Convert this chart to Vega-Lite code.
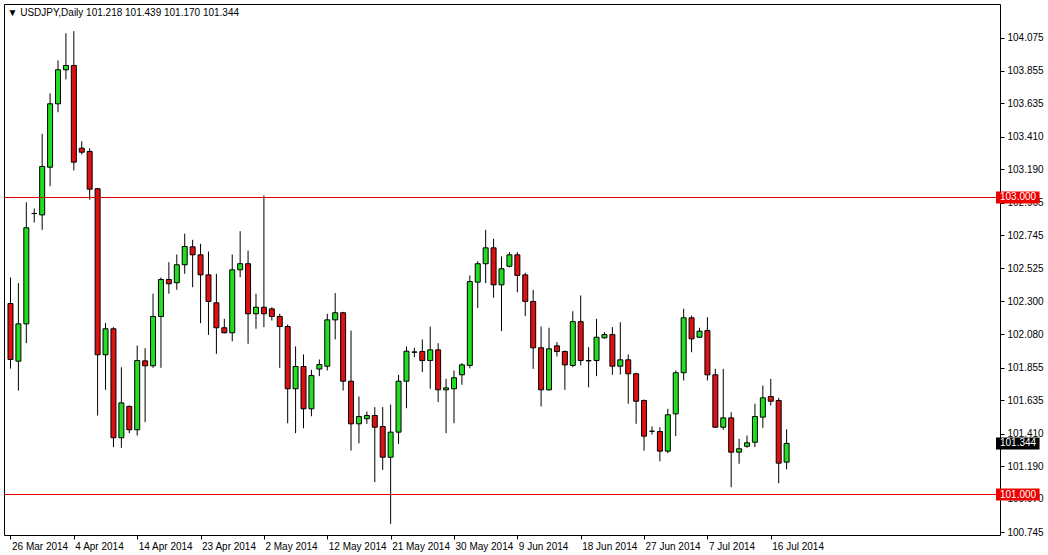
{
  "$schema": "https://vega.github.io/schema/vega-lite/v6.json",
  "width": 996,
  "height": 531,
  "autosize": {"type": "none"},
  "padding": {"left": 4, "top": 4, "right": 48, "bottom": 20},
  "background": "white",
  "config": {
    "view": {"stroke": "#000000", "strokeWidth": 1},
    "font": "Liberation Sans",
    "axis": {"grid": false, "domain": false, "title": null, "labelColor": "#000000", "tickColor": "#000000", "labelFontSize": 10, "labelFont": "Liberation Sans", "labelOverlap": false, "labelFlush": false}
  },
  "title": {"text": "▼  USDJPY,Daily  101.218 101.439 101.170 101.344", "anchor": "start", "orient": "top", "offset": -14, "dx": 4, "fontSize": 10, "fontWeight": "normal", "font": "Liberation Sans", "color": "#000000"},
  "datasets": {
    "candles": [
      {"i": 0, "date": "2014-03-26", "o": 102.286, "h": 102.461, "l": 101.848, "c": 101.909},
      {"i": 1, "date": "2014-03-27", "o": 101.898, "h": 102.423, "l": 101.700, "c": 102.149},
      {"i": 2, "date": "2014-03-28", "o": 102.149, "h": 102.968, "l": 102.019, "c": 102.796},
      {"i": 3, "date": "2014-03-30", "o": 102.892, "h": 102.926, "l": 102.832, "c": 102.892},
      {"i": 4, "date": "2014-03-31", "o": 102.883, "h": 103.429, "l": 102.782, "c": 103.209},
      {"i": 5, "date": "2014-04-01", "o": 103.204, "h": 103.702, "l": 103.076, "c": 103.631},
      {"i": 6, "date": "2014-04-02", "o": 103.631, "h": 103.923, "l": 103.574, "c": 103.860},
      {"i": 7, "date": "2014-04-03", "o": 103.860, "h": 104.106, "l": 103.795, "c": 103.889},
      {"i": 8, "date": "2014-04-04", "o": 103.889, "h": 104.120, "l": 103.182, "c": 103.238},
      {"i": 9, "date": "2014-04-06", "o": 103.332, "h": 103.379, "l": 103.290, "c": 103.305},
      {"i": 10, "date": "2014-04-07", "o": 103.310, "h": 103.332, "l": 102.985, "c": 103.056},
      {"i": 11, "date": "2014-04-08", "o": 103.059, "h": 103.065, "l": 101.532, "c": 101.941},
      {"i": 12, "date": "2014-04-09", "o": 101.941, "h": 102.154, "l": 101.705, "c": 102.116},
      {"i": 13, "date": "2014-04-10", "o": 102.116, "h": 102.127, "l": 101.319, "c": 101.382},
      {"i": 14, "date": "2014-04-11", "o": 101.382, "h": 101.857, "l": 101.314, "c": 101.617},
      {"i": 15, "date": "2014-04-13", "o": 101.593, "h": 101.600, "l": 101.413, "c": 101.436},
      {"i": 16, "date": "2014-04-14", "o": 101.436, "h": 102.003, "l": 101.397, "c": 101.902},
      {"i": 17, "date": "2014-04-15", "o": 101.900, "h": 101.985, "l": 101.487, "c": 101.867},
      {"i": 18, "date": "2014-04-16", "o": 101.867, "h": 102.352, "l": 101.853, "c": 102.199},
      {"i": 19, "date": "2014-04-17", "o": 102.199, "h": 102.461, "l": 101.853, "c": 102.448},
      {"i": 20, "date": "2014-04-18", "o": 102.448, "h": 102.564, "l": 102.352, "c": 102.419},
      {"i": 21, "date": "2014-04-20", "o": 102.426, "h": 102.616, "l": 102.378, "c": 102.547},
      {"i": 22, "date": "2014-04-21", "o": 102.547, "h": 102.756, "l": 102.486, "c": 102.670},
      {"i": 23, "date": "2014-04-22", "o": 102.668, "h": 102.715, "l": 102.396, "c": 102.614},
      {"i": 24, "date": "2014-04-23", "o": 102.614, "h": 102.688, "l": 102.154, "c": 102.479},
      {"i": 25, "date": "2014-04-24", "o": 102.479, "h": 102.636, "l": 102.075, "c": 102.300},
      {"i": 26, "date": "2014-04-25", "o": 102.291, "h": 102.486, "l": 101.947, "c": 102.123},
      {"i": 27, "date": "2014-04-27", "o": 102.123, "h": 102.183, "l": 102.085, "c": 102.089},
      {"i": 28, "date": "2014-04-28", "o": 102.089, "h": 102.616, "l": 102.032, "c": 102.513},
      {"i": 29, "date": "2014-04-29", "o": 102.513, "h": 102.773, "l": 102.463, "c": 102.554},
      {"i": 30, "date": "2014-04-30", "o": 102.554, "h": 102.643, "l": 102.015, "c": 102.217},
      {"i": 31, "date": "2014-05-01", "o": 102.217, "h": 102.352, "l": 102.116, "c": 102.261},
      {"i": 32, "date": "2014-05-02", "o": 102.261, "h": 103.013, "l": 102.127, "c": 102.217},
      {"i": 33, "date": "2014-05-04", "o": 102.250, "h": 102.261, "l": 102.172, "c": 102.199},
      {"i": 34, "date": "2014-05-05", "o": 102.199, "h": 102.217, "l": 101.853, "c": 102.131},
      {"i": 35, "date": "2014-05-06", "o": 102.131, "h": 102.145, "l": 101.480, "c": 101.712},
      {"i": 36, "date": "2014-05-07", "o": 101.712, "h": 101.997, "l": 101.413, "c": 101.862},
      {"i": 37, "date": "2014-05-08", "o": 101.862, "h": 101.943, "l": 101.446, "c": 101.577},
      {"i": 38, "date": "2014-05-09", "o": 101.577, "h": 101.840, "l": 101.527, "c": 101.801},
      {"i": 39, "date": "2014-05-11", "o": 101.845, "h": 101.909, "l": 101.797, "c": 101.875},
      {"i": 40, "date": "2014-05-12", "o": 101.864, "h": 102.217, "l": 101.835, "c": 102.176},
      {"i": 41, "date": "2014-05-13", "o": 102.176, "h": 102.356, "l": 102.044, "c": 102.224},
      {"i": 42, "date": "2014-05-14", "o": 102.224, "h": 102.230, "l": 101.700, "c": 101.763},
      {"i": 43, "date": "2014-05-15", "o": 101.763, "h": 102.104, "l": 101.296, "c": 101.476},
      {"i": 44, "date": "2014-05-16", "o": 101.476, "h": 101.660, "l": 101.345, "c": 101.525},
      {"i": 45, "date": "2014-05-18", "o": 101.510, "h": 101.559, "l": 101.476, "c": 101.532},
      {"i": 46, "date": "2014-05-19", "o": 101.532, "h": 101.588, "l": 101.083, "c": 101.453},
      {"i": 47, "date": "2014-05-20", "o": 101.458, "h": 101.588, "l": 101.166, "c": 101.251},
      {"i": 48, "date": "2014-05-21", "o": 101.251, "h": 101.606, "l": 100.803, "c": 101.420},
      {"i": 49, "date": "2014-05-22", "o": 101.420, "h": 101.806, "l": 101.341, "c": 101.763},
      {"i": 50, "date": "2014-05-23", "o": 101.763, "h": 101.997, "l": 101.581, "c": 101.965},
      {"i": 51, "date": "2014-05-25", "o": 101.960, "h": 101.988, "l": 101.925, "c": 101.958},
      {"i": 52, "date": "2014-05-26", "o": 101.963, "h": 102.044, "l": 101.824, "c": 101.902},
      {"i": 53, "date": "2014-05-27", "o": 101.902, "h": 102.131, "l": 101.712, "c": 101.974},
      {"i": 54, "date": "2014-05-28", "o": 101.974, "h": 102.019, "l": 101.622, "c": 101.705},
      {"i": 55, "date": "2014-05-29", "o": 101.705, "h": 101.779, "l": 101.413, "c": 101.718},
      {"i": 56, "date": "2014-05-30", "o": 101.712, "h": 101.835, "l": 101.480, "c": 101.786},
      {"i": 57, "date": "2014-06-01", "o": 101.806, "h": 101.884, "l": 101.739, "c": 101.873},
      {"i": 58, "date": "2014-06-02", "o": 101.869, "h": 102.475, "l": 101.850, "c": 102.434},
      {"i": 59, "date": "2014-06-03", "o": 102.430, "h": 102.571, "l": 102.255, "c": 102.554},
      {"i": 60, "date": "2014-06-04", "o": 102.554, "h": 102.782, "l": 102.423, "c": 102.661},
      {"i": 61, "date": "2014-06-05", "o": 102.661, "h": 102.722, "l": 102.325, "c": 102.412},
      {"i": 62, "date": "2014-06-06", "o": 102.412, "h": 102.603, "l": 102.100, "c": 102.520},
      {"i": 63, "date": "2014-06-08", "o": 102.537, "h": 102.632, "l": 102.530, "c": 102.614},
      {"i": 64, "date": "2014-06-09", "o": 102.614, "h": 102.632, "l": 102.362, "c": 102.475},
      {"i": 65, "date": "2014-06-10", "o": 102.479, "h": 102.493, "l": 102.201, "c": 102.300},
      {"i": 66, "date": "2014-06-11", "o": 102.300, "h": 102.378, "l": 101.846, "c": 101.988},
      {"i": 67, "date": "2014-06-12", "o": 101.988, "h": 102.131, "l": 101.593, "c": 101.705},
      {"i": 68, "date": "2014-06-13", "o": 101.705, "h": 102.123, "l": 101.700, "c": 101.981},
      {"i": 69, "date": "2014-06-15", "o": 102.001, "h": 102.026, "l": 101.929, "c": 101.963},
      {"i": 70, "date": "2014-06-16", "o": 101.963, "h": 101.970, "l": 101.705, "c": 101.873},
      {"i": 71, "date": "2014-06-17", "o": 101.869, "h": 102.234, "l": 101.857, "c": 102.164},
      {"i": 72, "date": "2014-06-18", "o": 102.164, "h": 102.340, "l": 101.869, "c": 101.902},
      {"i": 73, "date": "2014-06-19", "o": 101.902, "h": 101.992, "l": 101.722, "c": 101.900},
      {"i": 74, "date": "2014-06-20", "o": 101.902, "h": 102.183, "l": 101.797, "c": 102.059},
      {"i": 75, "date": "2014-06-22", "o": 102.055, "h": 102.093, "l": 102.050, "c": 102.077},
      {"i": 76, "date": "2014-06-23", "o": 102.077, "h": 102.127, "l": 101.806, "c": 101.864},
      {"i": 77, "date": "2014-06-24", "o": 101.864, "h": 102.160, "l": 101.808, "c": 101.907},
      {"i": 78, "date": "2014-06-25", "o": 101.907, "h": 101.943, "l": 101.611, "c": 101.813},
      {"i": 79, "date": "2014-06-26", "o": 101.813, "h": 101.820, "l": 101.476, "c": 101.628},
      {"i": 80, "date": "2014-06-27", "o": 101.633, "h": 101.640, "l": 101.296, "c": 101.393},
      {"i": 81, "date": "2014-06-29", "o": 101.426, "h": 101.458, "l": 101.404, "c": 101.426},
      {"i": 82, "date": "2014-06-30", "o": 101.424, "h": 101.453, "l": 101.224, "c": 101.292},
      {"i": 83, "date": "2014-07-01", "o": 101.292, "h": 101.577, "l": 101.278, "c": 101.537},
      {"i": 84, "date": "2014-07-02", "o": 101.543, "h": 101.835, "l": 101.393, "c": 101.820},
      {"i": 85, "date": "2014-07-03", "o": 101.820, "h": 102.251, "l": 101.768, "c": 102.190},
      {"i": 86, "date": "2014-07-04", "o": 102.190, "h": 102.205, "l": 101.958, "c": 102.048},
      {"i": 87, "date": "2014-07-06", "o": 102.059, "h": 102.123, "l": 102.055, "c": 102.100},
      {"i": 88, "date": "2014-07-07", "o": 102.104, "h": 102.194, "l": 101.768, "c": 101.806},
      {"i": 89, "date": "2014-07-08", "o": 101.806, "h": 101.846, "l": 101.449, "c": 101.453},
      {"i": 90, "date": "2014-07-09", "o": 101.453, "h": 101.846, "l": 101.436, "c": 101.516},
      {"i": 91, "date": "2014-07-10", "o": 101.516, "h": 101.554, "l": 101.049, "c": 101.285},
      {"i": 92, "date": "2014-07-11", "o": 101.285, "h": 101.375, "l": 101.207, "c": 101.308},
      {"i": 93, "date": "2014-07-13", "o": 101.325, "h": 101.397, "l": 101.314, "c": 101.348},
      {"i": 94, "date": "2014-07-14", "o": 101.352, "h": 101.611, "l": 101.319, "c": 101.525},
      {"i": 95, "date": "2014-07-15", "o": 101.521, "h": 101.734, "l": 101.449, "c": 101.651},
      {"i": 96, "date": "2014-07-16", "o": 101.660, "h": 101.779, "l": 101.599, "c": 101.628},
      {"i": 97, "date": "2014-07-17", "o": 101.633, "h": 101.651, "l": 101.076, "c": 101.211},
      {"i": 98, "date": "2014-07-18", "o": 101.218, "h": 101.439, "l": 101.170, "c": 101.344}
    ],
    "levels": [
      {"p": 103.0, "lab": "103.000", "kind": "level"},
      {"p": 101.0, "lab": "101.000", "kind": "level"},
      {"p": 101.344, "lab": "101.344", "kind": "current"}
    ]
  },
  "layer": [
    {
      "data": {"name": "candles"},
      "mark": {"type": "rule", "color": "#000000", "strokeWidth": 1, "clip": true},
      "encoding": {
        "x": {"field": "i", "type": "quantitative",
          "scale": {"domain": [-0.1875, 124.3125], "nice": false, "zero": false},
          "axis": {"values": [0, 8, 16, 24, 32, 40, 48, 56, 64, 72, 80, 88, 96], "tickCount": 40,
            "labelExpr": "['26 Mar 2014','4 Apr 2014','14 Apr 2014','23 Apr 2014','2 May 2014','12 May 2014','21 May 2014','30 May 2014','9 Jun 2014','18 Jun 2014','27 Jun 2014','7 Jul 2014','16 Jul 2014'][round(datum.value/8)]",
            "labelAlign": "left", "labelOffset": 1, "tickSize": 4, "labelPadding": 2, "labelBaseline": "top", "labelOverlap": false}},
        "y": {"field": "l", "type": "quantitative",
          "scale": {"domain": [100.7273, 104.303], "nice": false, "zero": false},
          "axis": {"orient": "right", "values": [104.075, 103.855, 103.635, 103.41, 103.19, 102.965, 102.745, 102.525, 102.3, 102.08, 101.855, 101.635, 101.41, 101.19, 100.97, 100.745], "tickCount": 40,
            "format": ".3f", "tickSize": 4, "labelPadding": 3, "labelBaseline": "middle", "labelAlign": "left", "labelOverlap": false}},
        "y2": {"field": "h"}
      }
    },
    {
      "data": {"name": "candles"},
      "mark": {"type": "bar", "width": 5, "stroke": "#000000", "strokeWidth": 1, "clip": true},
      "encoding": {
        "x": {"field": "i", "type": "quantitative"},
        "y": {"field": "o", "type": "quantitative"},
        "y2": {"field": "c"},
        "fill": {"condition": {"test": "datum.c >= datum.o", "value": "#22dd22"}, "value": "#dd1111"}
      }
    },
    {
      "data": {"name": "levels"},
      "transform": [{"filter": "datum.kind == 'level'"}],
      "mark": {"type": "rule", "color": "#e00000", "strokeWidth": 1},
      "encoding": {"y": {"field": "p", "type": "quantitative"}}
    },
    {
      "data": {"name": "levels"},
      "mark": {"type": "rect", "height": 12},
      "encoding": {
        "x": {"datum": 124.4375, "type": "quantitative"},
        "x2": {"datum": 129.9375},
        "y": {"field": "p", "type": "quantitative"},
        "fill": {"condition": {"test": "datum.kind == 'current'", "value": "#000000"}, "value": "#ee0000"}
      }
    },
    {
      "data": {"name": "levels"},
      "mark": {"type": "text", "align": "left", "baseline": "middle", "fontSize": 10, "color": "#ffffff"},
      "encoding": {
        "x": {"datum": 124.94, "type": "quantitative"},
        "y": {"field": "p", "type": "quantitative"},
        "text": {"field": "lab"}
      }
    }
  ]
}
